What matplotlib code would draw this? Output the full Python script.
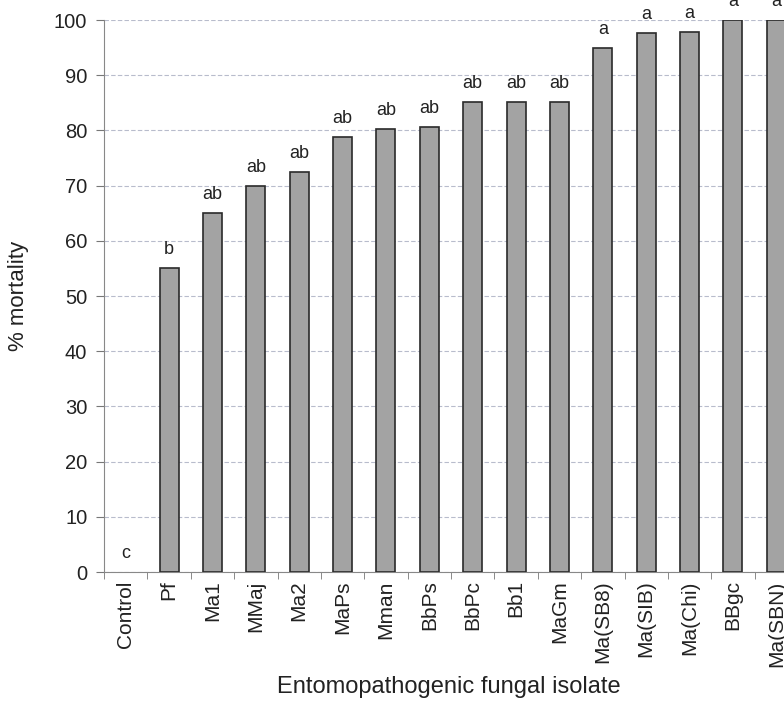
import numpy as np
import matplotlib.pyplot as plt

plt.rcParams['font.family'] = ['Liberation Sans', 'DejaVu Sans']

isolates = ['Control', 'Pf', 'Ma1', 'MMaj', 'Ma2', 'MaPs', 'Mman', 'BbPs',
            'BbPc', 'Bb1', 'MaGm', 'Ma(SB8)', 'Ma(SIB)', 'Ma(Chi)', 'BBgc', 'Ma(SBN)']
mortality = [0, 55, 65, 70, 72.5, 78.8, 80.2, 80.6,
             85.2, 85.2, 85.2, 95, 97.6, 97.8, 100, 100]
letters = ['c', 'b', 'ab', 'ab', 'ab', 'ab', 'ab', 'ab',
           'ab', 'ab', 'ab', 'a', 'a', 'a', 'a', 'a']

fig = plt.figure(figsize=(7.84, 7.05), dpi=100)
# plot area runs off the right edge of the picture, as in the scan
ax = fig.add_axes([104 / 784, 133 / 705, 694 / 784, 552 / 705])

x = np.arange(len(isolates))
bars = ax.bar(x, mortality, width=0.44, color='#a3a3a3', edgecolor='#2a2a2a', linewidth=1.2, zorder=3)
for b, v in zip(bars, mortality):
    if v == 0:
        b.set_linewidth(0)

for xi, v, lab in zip(x, mortality, letters):
    ax.text(xi, v + 1.8, lab, ha='center', va='bottom', fontsize=13, color='#222222')

ax.set_xlim(-0.5, len(isolates) - 0.5)
ax.set_ylim(0, 100)
ax.set_yticks(np.arange(0, 101, 10))
ax.set_xticks(x)
ax.set_xticklabels(isolates, rotation=90, fontsize=15, color='#222222')
ax.set_xticks(np.arange(-0.5, len(isolates), 1), minor=True)
ax.tick_params(axis='x', which='major', length=0, pad=6)
ax.tick_params(axis='x', which='minor', length=5, direction='out', color='#777777')
ax.tick_params(axis='y', labelsize=14.5, length=6, pad=6, color='#777777', labelcolor='#222222')

ax.yaxis.grid(True, linestyle=(0, (4, 2)), color='#b8bccc', linewidth=0.8, zorder=0)
for s in ['top', 'right']:
    ax.spines[s].set_visible(False)
ax.spines['left'].set_color('#888888')
ax.spines['bottom'].set_color('#888888')

ax.set_ylabel('% mortality', fontsize=16, color='#222222')
ax.yaxis.set_label_coords(-75 / 694, 0.5)
ax.set_xlabel('Entomopathogenic fungal isolate', fontsize=17, color='#222222')
ax.xaxis.set_label_coords((449 - 104) / 694, -104 / 552)

fig.savefig('out.png', dpi=100)
